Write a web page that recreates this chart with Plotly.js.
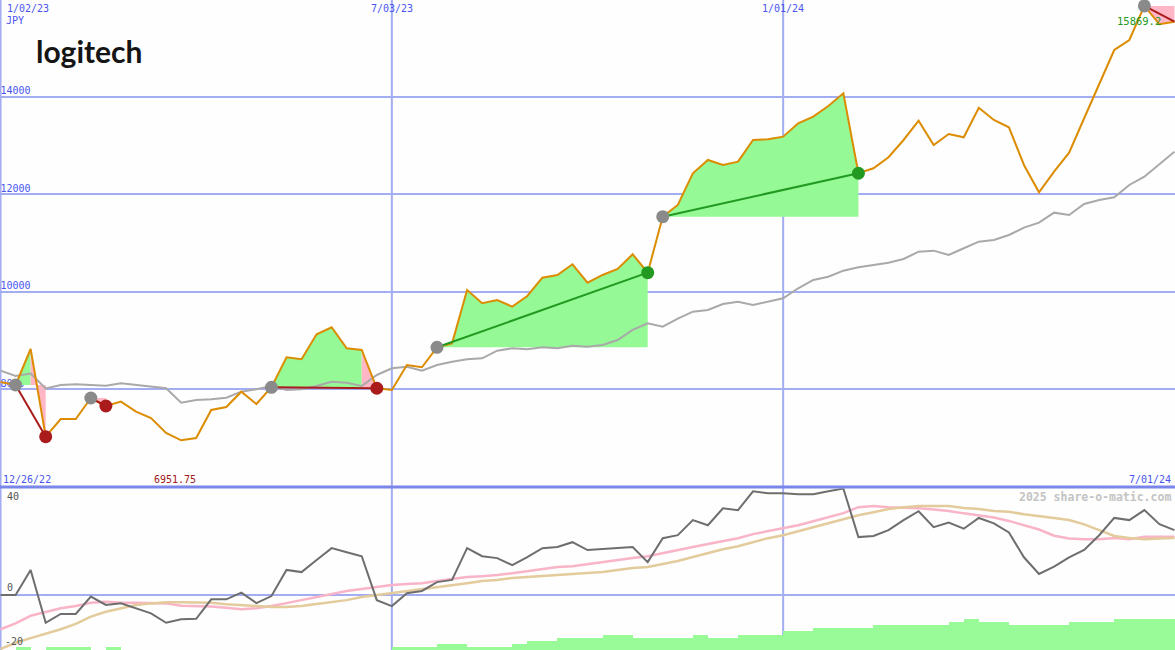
<!DOCTYPE html>
<html>
<head>
<meta charset="utf-8">
<script src="https://cdn.plot.ly/plotly-3.0.1.min.js"></script>
<style>
html,body{margin:0;padding:0;background:#fdfefd;}
#chart{width:1175px;height:650px;}
</style>
</head>
<body>
<div id="chart"></div>
<script>
// ---- data ----
// weekly dates (Mondays) 2023-01-02 .. 2024-07-01
const dates = [];
for (let i = 0; i < 79; i++) {
  const d = new Date(Date.UTC(2023, 0, 2 + 7 * i));
  dates.push(d.toISOString().slice(0, 10));
}
const price = [8149, 8087, 8826, 7026, 7389, 7389, 7820, 7656, 7745, 7539,
  7410, 7102, 6952, 6999, 7574, 7636, 7950, 7697, 8040, 8656,
  8615, 9128, 9272, 8841, 8806, 8020, 7985, 8498, 8451, 8861,
  8943, 10038, 9765, 9832, 9695, 9915, 10290, 10346, 10565, 10188,
  10346, 10469, 10771, 10393, 11543, 11783, 12434, 12707, 12604, 12672,
  13117, 13132, 13185, 13460, 13596, 13815, 14076, 12434, 12536, 12762,
  13117, 13513, 13015, 13240, 13173, 13780, 13528, 13378, 12604, 12043,
  12466, 12856, 13563, 14281, 14965, 15170, 15869, 15493, 15546];
const movingAvg = [8381, 8272, 8324, 8016, 8087, 8102, 8087, 8073, 8122, 8087,
  8053, 8020, 7724, 7779, 7794, 7827, 7950, 7999, 8067, 7985,
  7999, 8067, 8155, 8134, 8067, 8293, 8430, 8463, 8381, 8498,
  8566, 8615, 8635, 8792, 8841, 8820, 8861, 8841, 8894, 8874,
  8908, 9011, 9217, 9354, 9284, 9449, 9592, 9627, 9750, 9798,
  9730, 9798, 9867, 10073, 10243, 10311, 10434, 10504, 10551, 10598,
  10674, 10824, 10845, 10756, 10894, 11029, 11064, 11167, 11317, 11419,
  11625, 11577, 11803, 11885, 11941, 12193, 12364, 12624, 12877];
const oscillator = [0, 0, 9.3, -10.3, -7.0, -7.0, -0.6, -3.7, -3.1, -4.9,
  -6.8, -10.3, -9.0, -8.8, -1.6, -1.6, 0.9, -3.0, -0.4, 9.3,
  8.5, 13.0, 17.4, 15.9, 14.4, -1.9, -4.1, 0.7, 1.5, 4.8,
  5.6, 17.4, 14.4, 13.7, 11.1, 14.1, 17.4, 17.8, 19.6, 16.7,
  17.0, 17.4, 17.8, 12.2, 21.1, 22.2, 27.8, 25.9, 32.2, 31.5,
  38.5, 37.8, 37.8, 37.4, 37.4, 38.5, 39.5, 21.5, 21.9, 24.1,
  27.8, 31.1, 25.2, 26.9, 24.6, 28.6, 26.6, 23.2, 14.0, 7.8,
  10.5, 14.0, 16.7, 22.2, 28.6, 27.8, 31.5, 26.3, 24.1];
const signalPink = [-12.7, -10.5, -7.7, -6.2, -4.9, -4.1, -2.9, -2.5, -2.9, -2.9,
  -3.1, -3.1, -4.0, -4.1, -4.3, -4.7, -5.3, -4.9, -4.1, -3.0,
  -1.9, -0.7, 0.4, 1.5, 2.2, 3.0, 3.7, 4.1, 4.4, 5.2,
  5.9, 6.7, 7.0, 7.4, 8.1, 8.9, 9.6, 10.4, 10.7, 11.5,
  12.2, 13.0, 13.7, 14.4, 15.6, 16.7, 17.8, 18.9, 20.0, 21.1,
  22.6, 23.7, 24.8, 25.9, 27.4, 28.9, 30.4, 32.6, 33.0, 32.6,
  32.4, 32.2, 31.7, 31.2, 30.3, 29.6, 28.8, 27.5, 25.9, 24.3,
  22.0, 21.0, 20.7, 20.7, 21.2, 20.7, 21.6, 21.6, 21.6];
const signalTan = [-20.0, -17.7, -16.0, -14.4, -12.7, -10.7, -8.0, -6.2, -4.9, -3.7,
  -3.1, -2.7, -2.7, -2.9, -2.9, -3.4, -3.8, -4.1, -4.4, -4.4,
  -4.1, -3.3, -2.6, -1.9, -0.7, 0, 0.7, 1.5, 2.2, 3.0,
  3.7, 4.4, 5.2, 5.6, 6.3, 6.7, 7.0, 7.4, 7.8, 8.1,
  8.5, 9.3, 10.0, 10.4, 11.5, 12.6, 14.1, 15.6, 17.0, 18.1,
  19.6, 21.1, 22.2, 23.7, 25.2, 26.7, 28.1, 29.6, 30.7, 31.9,
  32.6, 33.0, 33.0, 33.0, 32.3, 31.9, 31.2, 30.9, 30.0, 29.4,
  28.6, 27.8, 26.2, 24.1, 21.9, 21.2, 20.7, 21.0, 21.2];
const strengthBars = [0, 3, 0, 3, 3, 3, 0, 3, 0, 0,
  0, 0, 0, 0, 0, 0, 0, 0, 0, 0,
  0, 0, 0, 0, 0, 0, 3, 3, 3, 6,
  6, 3, 3, 3, 6, 9, 9, 12, 12, 12,
  15, 15, 12, 12, 12, 12, 15, 12, 12, 15,
  15, 15, 19, 19, 22, 22, 22, 22, 25, 25,
  25, 25, 25, 28, 31, 28, 28, 25, 25, 25,
  25, 28, 28, 28, 31, 31, 31, 31, 31];
// trades: index of entry and exit week
const tradeEntry = [1, 6, 18, 29, 44, 76];
const tradeExit = [3, 7, 25, 43, 57, 78];
const tradeClosed = [true, true, true, true, true, false];
const gridDates = ['2023-01-02', '2023-07-03', '2024-01-01'];
const gridLabels = ['1/02/23', '7/03/23', '1/01/24'];
const priceTicks = [8000, 10000, 12000, 14000];
const oscTopLabel = '40', oscZeroLabel = '0', oscBottomLabel = '-20';
const currency = 'JPY';
const minLabel = '6951.75';
const maxLabel = '15869.2';
const panelStartLabel = '12/26/22';
const panelEndLabel = '7/01/24';
const credit = '2025 share-o-matic.com';

// ---- styles ----
const GREEN_FILL = '#95f995';
const PINK_FILL = '#ffb6c6';
const ORANGE = '#dc8c00';
const GRID = '#a3adf2';
const LABEL = '#4a55f0';
const RED = '#aa1c1c';
const WIN = '#229a22';
const MONO = 'DejaVu Sans Mono, monospace';

const traces = [];

// price tick labels drawn first so marks cover them, as in the reference
traces.push({x: priceTicks.map(() => dates[0]), y: priceTicks, type: 'scatter', mode: 'text',
  text: priceTicks.map(String), textposition: 'top right', cliponaxis: false,
  textfont: {family: MONO, size: 10, color: LABEL}, xaxis: 'x', yaxis: 'y'});

// trade fills
for (let t = 0; t < tradeEntry.length; t++) {
  const e = tradeEntry[t], x = tradeExit[t];
  const ev = price[e];
  let runStart = e, runColor = null;
  const pushPoly = (a, b, col) => {
    const xs = [dates[a]], ys = [ev];
    for (let k = a; k <= b; k++) { xs.push(dates[k]); ys.push(price[k]); }
    xs.push(dates[b]); ys.push(ev);
    traces.push({x: xs, y: ys, type: 'scatter', mode: 'lines', fill: 'toself',
      fillcolor: col, line: {width: 0, color: col}, hoverinfo: 'skip', xaxis: 'x', yaxis: 'y'});
  };
  for (let k = e; k < x; k++) {
    const c = price[k + 1] >= ev ? GREEN_FILL : PINK_FILL;
    if (runColor === null) runColor = c;
    else if (c !== runColor) { pushPoly(runStart, k, runColor); runStart = k; runColor = c; }
  }
  pushPoly(runStart, x, runColor);
}

// moving average
traces.push({x: dates, y: movingAvg, type: 'scatter', mode: 'lines',
  line: {color: '#a9a9a9', width: 2}, xaxis: 'x', yaxis: 'y'});
// price
traces.push({x: dates, y: price, type: 'scatter', mode: 'lines',
  line: {color: ORANGE, width: 2}, xaxis: 'x', yaxis: 'y'});

// trade lines and markers
for (let t = 0; t < tradeEntry.length; t++) {
  const e = tradeEntry[t], x = tradeExit[t];
  const win = price[x] > price[e];
  traces.push({x: [dates[e], dates[x]], y: [price[e], price[x]], type: 'scatter', mode: 'lines',
    line: {color: win ? WIN : RED, width: 2}, xaxis: 'x', yaxis: 'y'});
}
traces.push({x: tradeEntry.map(i => dates[i]), y: tradeEntry.map(i => price[i]), type: 'scatter',
  mode: 'markers', marker: {size: 13, color: '#8a8a8a'}, xaxis: 'x', yaxis: 'y'});
const exitIdx = tradeExit.filter((v, i) => tradeClosed[i]);
const exitEntry = tradeEntry.filter((v, i) => tradeClosed[i]);
traces.push({x: exitIdx.map(i => dates[i]), y: exitIdx.map(i => price[i]), type: 'scatter',
  mode: 'markers', marker: {size: 13, color: exitIdx.map((i, j) => price[i] > price[exitEntry[j]] ? WIN : RED)},
  xaxis: 'x', yaxis: 'y'});

// lower panel
traces.push({x: dates, y: signalPink, type: 'scatter', mode: 'lines',
  line: {color: '#f9b4c8', width: 2.5}, xaxis: 'x', yaxis: 'y2'});
traces.push({x: dates, y: signalTan, type: 'scatter', mode: 'lines',
  line: {color: '#e3cb9c', width: 2.5}, xaxis: 'x', yaxis: 'y2'});
traces.push({x: dates, y: oscillator, type: 'scatter', mode: 'lines',
  line: {color: '#6e6e6e', width: 2}, xaxis: 'x', yaxis: 'y2'});
traces.push({x: dates, y: strengthBars, type: 'bar', offset: 0, width: 7 * 24 * 3600 * 1000,
  marker: {color: '#98fb98', line: {width: 0}}, xaxis: 'x', yaxis: 'y3'});

const SPLIT = 163 / 650;
const annotations = [];
gridDates.forEach((d, i) => {
  annotations.push({x: d, xref: 'x', y: 1, yref: 'paper', yanchor: 'top', yshift: -1,
    xanchor: i === 0 ? 'left' : 'center', xshift: i === 0 ? 4 : 0,
    text: gridLabels[i], showarrow: false, font: {family: MONO, size: 10, color: LABEL}});
});
annotations.push({x: 0, xref: 'paper', y: 1, yref: 'paper', yanchor: 'top', yshift: -13, xanchor: 'left', xshift: 4,
  text: currency, showarrow: false, font: {family: MONO, size: 10, color: LABEL}});
annotations.push({x: dates[tradeEntry[5]], xref: 'x', y: price[tradeEntry[5]], yref: 'y', yanchor: 'top', yshift: -7,
  xanchor: 'right', xshift: 19, text: maxLabel, showarrow: false, font: {family: MONO, size: 10.5, color: '#229a22'}});
annotations.push({x: 0, xref: 'paper', y: SPLIT, yref: 'paper', yanchor: 'bottom', yshift: 0, xanchor: 'left', xshift: 1,
  text: panelStartLabel, showarrow: false, font: {family: MONO, size: 10, color: LABEL}});
annotations.push({x: 152 / 1175, xref: 'paper', y: SPLIT, yref: 'paper', yanchor: 'bottom', yshift: 0, xanchor: 'left',
  text: minLabel, showarrow: false, font: {family: MONO, size: 10, color: '#a01818'}});
annotations.push({x: 1, xref: 'paper', y: SPLIT, yref: 'paper', yanchor: 'bottom', yshift: 0, xanchor: 'right', xshift: -2,
  text: panelEndLabel, showarrow: false, font: {family: MONO, size: 10, color: LABEL}});
annotations.push({x: 1, xref: 'paper', y: SPLIT, yref: 'paper', yanchor: 'top', yshift: -1, xanchor: 'right', xshift: -2,
  text: credit, showarrow: false, font: {family: MONO, size: 11.5, color: '#c4c4c4', weight: 'bold'}});
annotations.push({x: 0, xref: 'paper', y: SPLIT, yref: 'paper', yanchor: 'top', yshift: -2, xanchor: 'left', xshift: 5,
  text: oscTopLabel, showarrow: false, font: {family: MONO, size: 10, color: '#555555'}});
annotations.push({x: 0, xref: 'paper', y: 0, yref: 'y2', yanchor: 'bottom', yshift: 0, xanchor: 'left', xshift: 5,
  text: oscZeroLabel, showarrow: false, font: {family: MONO, size: 10, color: '#555555'}});
annotations.push({x: 0, xref: 'paper', y: 0, yref: 'paper', yanchor: 'bottom', yshift: 1, xanchor: 'left', xshift: 3,
  text: oscBottomLabel, showarrow: false, font: {family: MONO, size: 10, color: '#555555'}});
annotations.push({x: 34 / 1175, xref: 'paper', y: 1, yref: 'paper', yanchor: 'top', yshift: -31, xanchor: 'left',
  text: 'logitech', showarrow: false, font: {family: 'Lato, sans-serif', size: 30, color: '#151515', weight: 700}});

const shapes = gridDates.map(d => ({type: 'line', xref: 'x', yref: 'paper', x0: d, x1: d, y0: 0, y1: 1,
  line: {color: GRID, width: 2}, layer: 'below'}));
shapes.push({type: 'line', xref: 'paper', yref: 'paper', x0: 0, x1: 1, y0: SPLIT, y1: SPLIT,
  line: {color: '#7a86ea', width: 3}, layer: 'above'});

const layout = {
  width: 1175, height: 650,
  margin: {l: 0, r: 0, t: 0, b: 0, pad: 0},
  paper_bgcolor: '#fdfefd', plot_bgcolor: '#fdfefd',
  showlegend: false, hovermode: false, bargap: 0,
  xaxis: {type: 'date', range: ['2023-01-01 18:00', '2024-07-01 06:00'], showgrid: false, zeroline: false,
    showticklabels: false, ticks: '', showline: false, anchor: 'y2'},
  yaxis: {domain: [SPLIT, 1], range: [5993, 15991], tickvals: priceTicks, showgrid: true, gridcolor: GRID,
    gridwidth: 2, zeroline: false, showticklabels: false, ticks: '', showline: false},
  yaxis2: {domain: [0, SPLIT - 0.002], range: [-20.4, 39.6], showgrid: false, zeroline: true,
    zerolinecolor: GRID, zerolinewidth: 2, showticklabels: false, ticks: '', showline: false},
  yaxis3: {overlaying: 'y2', range: [0, 162], visible: false, showgrid: false, zeroline: false},
  annotations: annotations, shapes: shapes
};

Plotly.newPlot('chart', traces, layout, {displayModeBar: false, staticPlot: true});
</script>
</body>
</html>
